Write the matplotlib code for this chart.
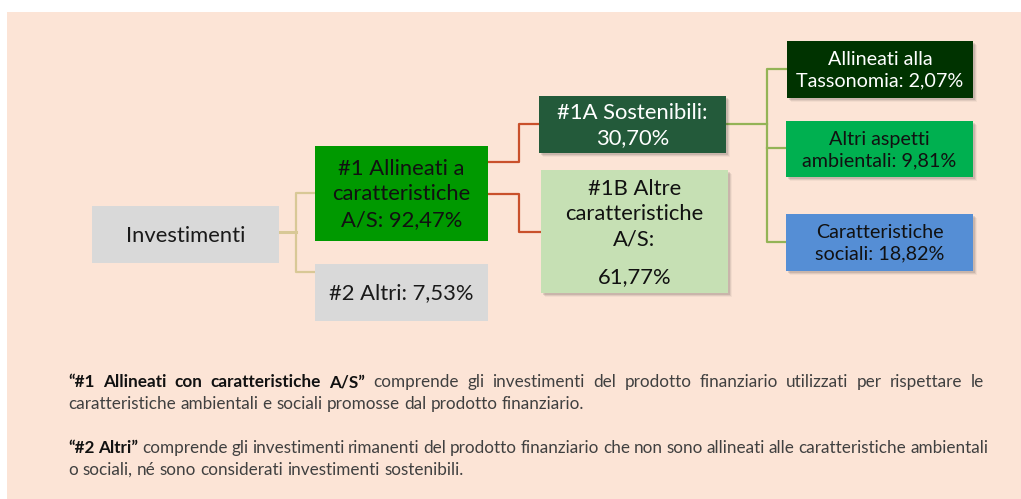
import matplotlib.pyplot as plt
from matplotlib.patches import Rectangle

plt.rcParams['font.family'] = ['Lato', 'DejaVu Sans']

# diagram content
box_labels = ["Investimenti",
              "#1 Allineati a\ncaratteristiche\nA/S: 92,47%",
              "#2 Altri: 7,53%",
              "#1A Sostenibili:\n30,70%",
              "#1B Altre\ncaratteristiche\nA/S:",
              "Allineati alla\nTassonomia: 2,07%",
              "Altri aspetti\nambientali: 9,81%",
              "Caratteristiche\nsociali: 18,82%"]
box_1b_value = "61,77%"
# left, top, right, bottom in pixels
box_rects = [(92, 206, 279, 263),
             (315, 146, 488, 241),
             (315, 264, 488, 321),
             (539, 96, 726, 153),
             (541, 170, 728, 293),
             (787, 41, 973, 98),
             (786, 121, 973, 177),
             (786, 214, 973, 271)]
box_colors = ["#d9d9d9", "#009900", "#d9d9d9", "#235a3a",
              "#c6e0b4", "#003300", "#00b050", "#558ed5"]
text_colors = ["#1a1a1a", "#111111", "#1a1a1a", "white",
               "#111111", "white", "#111111", "#111111"]
box_fs = [15.8, 15.8, 15.8, 15.8, 15.8, 14.2, 14.2, 14.2]
shadow = [False, False, False, True, True, True, True, True]

note_lines = [
    [("“#1 Allineati con caratteristiche A/S”", True),
     ("comprende gli investimenti del prodotto finanziario utilizzati per rispettare le", False)],
    [("caratteristiche ambientali e sociali promosse dal prodotto finanziario.", False)],
    [("“#2 Altri”", True),
     ("comprende gli investimenti rimanenti del prodotto finanziario che non sono allineati alle caratteristiche ambientali", False)],
    [("o sociali, né sono considerati investimenti sostenibili.", False)],
]
note_y = [382, 404, 448, 470]
note_right = [984, None, 988, None]
note_fs = 12.3

fig = plt.figure(figsize=(10.21, 4.99), dpi=100)
ax = fig.add_axes([0, 0, 1, 1])
ax.set_xlim(0, 1021)
ax.set_ylim(499, 0)
ax.axis("off")

ax.add_patch(Rectangle((7, 12), 1021, 499, facecolor="#fce4d6", edgecolor="none", zorder=0))

# connectors
tan = "#d8c896"
red = "#c9502b"
grn = "#93b356"
ax.plot([279, 296], [232, 232], color=tan, lw=2.2, zorder=1)
ax.plot([315, 296, 296, 315], [193, 193, 272, 272], color=tan, lw=1.6, zorder=1)

ax.plot([488, 519, 519, 539], [162, 162, 124, 124], color=red, lw=1.6, zorder=1)
ax.plot([488, 519, 519, 541], [194, 194, 232, 232], color=red, lw=1.6, zorder=1)

ax.plot([726, 767], [124, 124], color=grn, lw=1.6, zorder=1)
ax.plot([787, 767, 767, 786], [69, 69, 242, 242], color=grn, lw=1.6, zorder=1)
ax.plot([767, 786], [148, 148], color=grn, lw=1.6, zorder=1)

for i, (l, t, r, b) in enumerate(box_rects):
    if shadow[i]:
        for k, a in enumerate([0.10, 0.07, 0.04]):
            d = 2 + k
            ax.add_patch(Rectangle((l + d, t + d), r - l, b - t, facecolor="#000000",
                                   alpha=a, edgecolor="none", zorder=2))
    ax.add_patch(Rectangle((l, t), r - l, b - t, facecolor=box_colors[i],
                           edgecolor="none", zorder=3))
    cx = (l + r) / 2
    cy = (t + b) / 2
    if i == 4:
        cy = 213
    ax.text(cx, cy + 1, box_labels[i], ha="center", va="center", fontsize=box_fs[i],
            color=text_colors[i], linespacing=1.32, zorder=4)
l, t, r, b = box_rects[4]
ax.text((l + r) / 2, 277, box_1b_value, ha="center", va="center", fontsize=box_fs[4],
        color=text_colors[4], zorder=4)

# notes with justified lines
renderer = fig.canvas.get_renderer()
x0 = 68
t1 = ax.text(0, 0, "a a", fontsize=note_fs)
t2 = ax.text(0, 0, "aa", fontsize=note_fs)
space = t1.get_window_extent(renderer).width - t2.get_window_extent(renderer).width
t1.remove()
t2.remove()
for segs, y, right in zip(note_lines, note_y, note_right):
    words = []
    for s, bold in segs:
        for w in s.split(" "):
            words.append((w, bold))
    items = []
    for w, bold in words:
        txt = ax.text(0, y, w, fontsize=note_fs, va="center", ha="left",
                      color="#111111" if bold else "#404040",
                      fontweight="bold" if bold else "normal")
        items.append(txt)
    widths = [it.get_window_extent(renderer).width for it in items]
    if right is not None and len(items) > 1:
        gap = (right - x0 - sum(widths)) / (len(items) - 1)
    else:
        gap = space
    x = x0
    for it, w in zip(items, widths):
        it.set_x(x)
        x += w + gap

fig.savefig("out.png", dpi=100)
